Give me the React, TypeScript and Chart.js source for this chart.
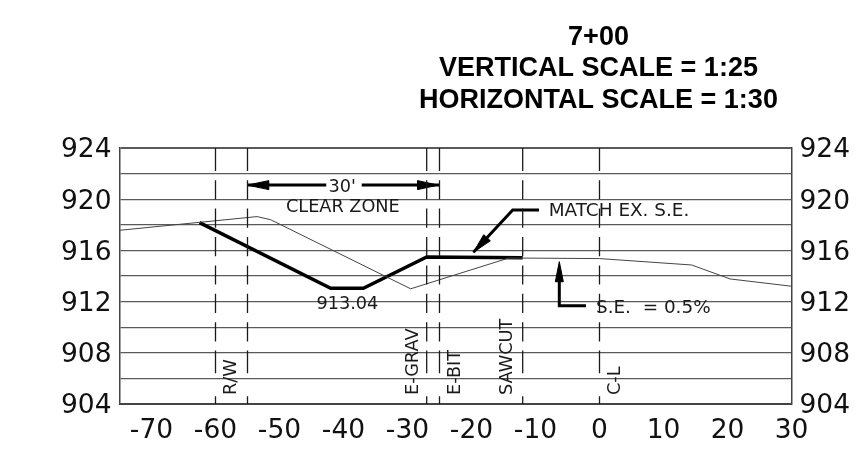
import React, { useEffect, useRef } from "react";
import { Chart, registerables } from "chart.js";

Chart.register(...registerables);

const titleLines = ["7+00", "VERTICAL SCALE = 1:25", "HORIZONTAL SCALE = 1:30"];
const xTicks = [-70, -60, -50, -40, -30, -20, -10, 0, 10, 20, 30];
const yLabelled = [904, 908, 912, 916, 920, 924];

const existingX = [-75, -53.5, -51.4, -29.5, -14.2, -12, 0, 14.4, 20.4, 30];
const existingY = [917.57, 918.64, 918.4, 913.0, 915.4, 915.4, 915.36, 914.86, 913.77, 913.2];
const proposedX = [-62.5, -42, -36.9, -27, -12];
const proposedY = [918.17, 913.04, 913.04, 915.48, 915.43];

const offsetLines = [-60, -55, -27, -25, -12, 0];
const offsetDash = [23, 9.2, 19.2, 9.2, 19.2, 9.2, 19.2, 9.2, 19.2, 9.2, 19.2, 9.2, 19.2, 9.2, 22.7];

const leaderPaths: [number, number][][] = [
  [[-55, 921.1], [-42.7, 921.1]],
  [[-37.15, 921.1], [-25, 921.1]],
  [[-9.45, 919.16], [-13.56, 919.16], [-19.7, 915.85]],
  [[-2.11, 911.68], [-6.28, 911.68], [-6.28, 914]],
];
const arrowHeads: [number, number][][] = [
  [[-55, 921.1], [-51.7, 921.45], [-51.7, 920.75], [-55, 921.1]],
  [[-25.2, 921.1], [-28.4, 921.45], [-28.4, 920.75], [-25.2, 921.1]],
  [[-19.7, 915.85], [-17.06, 916.75], [-18.09, 917.23], [-19.7, 915.85]],
  [[-6.28, 915.12], [-5.65, 913.55], [-6.9, 913.55], [-6.28, 915.12]],
];

type Note = { text: string; x: number; y: number; align: CanvasTextAlign; rotate?: boolean; wide?: boolean };
const notes: Note[] = [
  { text: "30'", x: -40.2, y: 921.05, align: "center" },
  { text: "CLEAR ZONE", x: -40.1, y: 919.47, align: "center" },
  { text: "MATCH EX. S.E.", x: -7.94, y: 919.13, align: "left", wide: true },
  { text: "S.E.  = 0.5%", x: -0.55, y: 911.6, align: "left", wide: true },
  { text: "913.04", x: -39.4, y: 911.91, align: "center" },
  { text: "R/W", x: -57.7, y: 904.7, align: "left", rotate: true },
  { text: "E-GRAV", x: -29.25, y: 904.7, align: "left", rotate: true },
  { text: "E-BIT", x: -22.6, y: 904.7, align: "left", rotate: true },
  { text: "SAWCUT", x: -14.5, y: 904.7, align: "left", rotate: true },
  { text: "C-L", x: 2.27, y: 904.7, align: "left", rotate: true },
];

const INK = "#1a1a1a";
const GRID = "#5a5a5a";
const SANS = "'DejaVu Sans'";

const zip = (xs: number[], ys: number[]) => xs.map((x, i) => ({ x, y: ys[i] }));
const toPts = (p: [number, number][]) => p.map(([x, y]) => ({ x, y }));

const labelPlugin = {
  id: "labelPlugin",
  afterDraw(chart: any) {
    const { ctx, scales } = chart;
    const xs = scales.x;
    const ys = scales.y;
    ctx.save();
    ctx.fillStyle = "#000";
    ctx.font = "bold 27px 'Liberation Sans'";
    ctx.textAlign = "center";
    ctx.textBaseline = "alphabetic";
    titleLines.forEach((line, i) => {
      ctx.fillText(line, xs.getPixelForValue(0) - 1, 44.5 + i * 31.6);
    });
    ctx.fillStyle = INK;
    ctx.textBaseline = "middle";
    notes.forEach((n) => {
      ctx.font = `${n.wide ? 18.4 : 17.7}px ${SANS}`;
      const px = xs.getPixelForValue(n.x);
      const py = ys.getPixelForValue(n.y);
      ctx.save();
      ctx.translate(px + (n.rotate ? 1 : 0), py + (n.rotate ? 0 : 1.2));
      if (n.rotate) ctx.rotate(-Math.PI / 2);
      ctx.textAlign = n.align;
      ctx.fillText(n.text, 0, 0);
      ctx.restore();
    });
    ctx.restore();
  },
};

export default function App() {
  const ref = useRef<HTMLCanvasElement>(null);
  useEffect(() => {
    const lineBase = { showLine: true, pointRadius: 0, pointHoverRadius: 0, tension: 0, fill: false };
    const datasets: any[] = [
      ...offsetLines.map((x) => ({
        ...lineBase,
        data: [{ x, y: 924 }, { x, y: 904 }],
        borderColor: INK,
        borderWidth: 1.3,
        borderDash: offsetDash,
      })),
      { ...lineBase, data: zip(existingX, existingY), borderColor: "#444444", borderWidth: 1 },
      { ...lineBase, data: zip(proposedX, proposedY), borderColor: "#000", borderWidth: 3.4 },
      ...leaderPaths.map((p) => ({ ...lineBase, data: toPts(p), borderColor: "#000", borderWidth: 3 })),
      ...arrowHeads.map((p) => ({
        ...lineBase,
        data: toPts(p),
        borderColor: "#000",
        borderWidth: 1,
        backgroundColor: "#000",
        fill: "shape",
      })),
    ];
    const tickFont = { family: SANS, size: 26.5 };
    const yAxis = (position: string, width: number) => ({
      type: "linear",
      position,
      min: 904,
      max: 924,
      afterFit: (s: any) => { s.width = width; },
      afterBuildTicks: (s: any) => {
        const t = [];
        for (let v = 904; v <= 924; v += 2) t.push({ value: v });
        s.ticks = t;
      },
      border: { display: true, color: "#444", width: 1.5 },
      ticks: {
        font: tickFont,
        color: "#111",
        padding: 8,
        labelOffset: 2.5,
        autoSkip: false,
        callback: (v: number) => (yLabelled.includes(v) ? String(v) : ""),
      },
    });
    const chart = new Chart(ref.current!, {
      type: "scatter",
      data: { datasets },
      plugins: [labelPlugin],
      options: {
        responsive: false,
        animation: false,
        layout: { padding: { top: 148, bottom: 0, left: 0, right: 0 } },
        plugins: { legend: { display: false }, tooltip: { enabled: false } },
        scales: {
          x: {
            type: "linear",
            min: -75,
            max: 30,
            afterFit: (s: any) => { s.height = 60; },
            afterBuildTicks: (s: any) => { s.ticks = xTicks.map((value) => ({ value })); },
            grid: { display: false },
            border: { display: true, color: "#444", width: 2 },
            ticks: {
              font: tickFont,
              color: "#111",
              padding: 3,
              autoSkip: false,
              maxRotation: 0,
              minRotation: 0,
              callback: (v: number) => String(v),
            },
          },
          y: {
            ...yAxis("left", 119.5),
            grid: {
              drawTicks: false,
              color: GRID,
              lineWidth: (c: any) => (c.tick && c.tick.value === 924 ? 2 : 1.2),
            },
          },
          y2: { ...yAxis("right", 72.5), grid: { display: false, drawTicks: false } },
        },
      } as any,
    } as any);
    return () => chart.destroy();
  }, []);
  return (
    <div style={{ position: "fixed", left: 0, top: 0 }}>
      <canvas ref={ref} width={864} height={464} style={{ display: "block" }} />
    </div>
  );
}
